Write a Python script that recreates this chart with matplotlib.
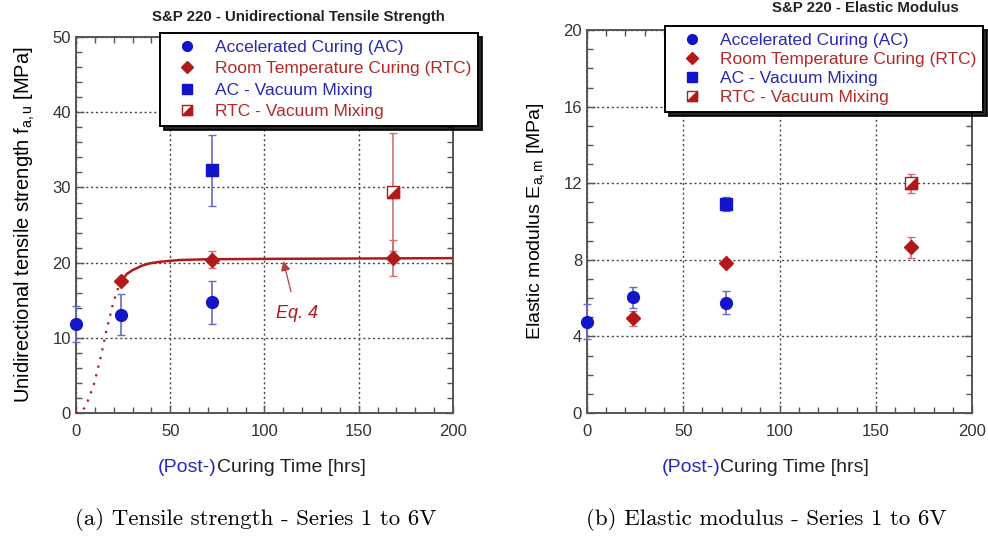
import matplotlib
matplotlib.use("Agg")
import matplotlib.pyplot as plt
from matplotlib.lines import Line2D
from matplotlib.legend_handler import HandlerTuple
from matplotlib.ticker import MultipleLocator
from matplotlib.path import Path

plt.rcParams["font.family"] = ["Liberation Sans", "DejaVu Sans"]
plt.rcParams["mathtext.fontset"] = "custom"
plt.rcParams["mathtext.rm"] = "Liberation Sans"
plt.rcParams["mathtext.it"] = "Liberation Sans:italic"

# ---------------- data ----------------
# Tensile strength (left)
ac_t = [0, 24, 72]
ac_f = [11.8, 13.1, 14.7]
ac_f_err = [2.4, 2.7, 2.8]
rtc_t = [24, 72, 168]
rtc_f = [17.6, 20.4, 20.6]
rtc_f_err = [0.3, 1.1, 2.4]
acvm_t = [72]
acvm_f = [32.3]
acvm_f_err = [4.7]
rtcvm_t = [168]
rtcvm_f = [29.4]
rtcvm_f_err = [7.8]
# Eq. 4 curve
eq_t_dot = [0, 2, 5, 9.4, 13, 16.2, 19.7, 23.3, 24]
eq_f_dot = [0, 0, 0.8, 3.7, 7.3, 11.0, 14.6, 17.3, 17.6]
eq_t_sol = [24, 27, 30, 35, 39, 44, 48, 55, 70, 100, 200]
eq_f_sol = [17.6, 18.5, 19.0, 19.6, 19.9, 20.1, 20.2, 20.35, 20.45, 20.5, 20.6]

# Elastic modulus (right)
ac_e = [4.77, 6.04, 5.76]
ac_e_err = [0.9, 0.55, 0.6]
rtc_e = [4.94, 7.85, 8.65]
rtc_e_err = [0.4, 0.1, 0.55]
acvm_e = [10.91]
acvm_e_err = [0.35]
rtcvm_e = [11.99]
rtcvm_e_err = [0.5]

labels = ["Accelerated Curing (AC)", "Room Temperature Curing (RTC)",
          "AC - Vacuum Mixing", "RTC - Vacuum Mixing"]

BLUE = "#1414c8"
RED = "#b01a1a"
BLUE_T = "#2828b4"
RED_T = "#b42828"
EB_BLUE = "#6a6ac8"
EB_RED = "#d07070"

tri = Path([(-1, -1), (1, -1), (1, 1), (-1, -1)],
           [Path.MOVETO, Path.LINETO, Path.LINETO, Path.CLOSEPOLY])

fig = plt.figure(figsize=(9.88, 5.37), dpi=100)
axL = fig.add_axes([0.0769, 0.2309, 0.3816, 0.700])
axR = fig.add_axes([0.594, 0.2309, 0.390, 0.713])


def style(ax, ymax, ymaj, ymin):
    ax.set_xlim(0, 200)
    ax.set_ylim(0, ymax)
    ax.xaxis.set_major_locator(MultipleLocator(50))
    ax.xaxis.set_minor_locator(MultipleLocator(10))
    ax.yaxis.set_major_locator(MultipleLocator(ymaj))
    ax.yaxis.set_minor_locator(MultipleLocator(ymin))
    ax.tick_params(which="both", direction="in", top=True, right=True,
                   colors="#555555", labelcolor="#333333", labelsize=12)
    ax.tick_params(which="major", length=6, width=1)
    ax.tick_params(which="minor", length=4, width=1)
    ax.tick_params(axis="x", pad=8)
    ax.grid(True, which="major", linestyle=(0, (1.5, 2.0)), color="#444444",
            linewidth=1.0)
    for s in ax.spines.values():
        s.set_color("#555555")
        s.set_linewidth(1.4)
    ax.set_axisbelow(True)


def draw(ax, y_ac, e_ac, y_rtc, e_rtc, y_acvm, e_acvm, y_rtcvm, e_rtcvm):
    ax.errorbar(ac_t, y_ac, yerr=e_ac, fmt="o", color=BLUE, ms=8.5,
                ecolor=EB_BLUE, elinewidth=1.2, capsize=3, zorder=5,
                clip_on=False)
    ax.errorbar(rtc_t, y_rtc, yerr=e_rtc, fmt="D", color=RED, ms=7.5,
                ecolor=EB_RED, elinewidth=1.2, capsize=3, zorder=5)
    ax.errorbar(acvm_t, y_acvm, yerr=e_acvm, fmt="s", color=BLUE, ms=8,
                ecolor=EB_BLUE, elinewidth=1.2, capsize=3, zorder=5)
    ax.errorbar(rtcvm_t, y_rtcvm, yerr=e_rtcvm, fmt="s", mfc="white",
                mec=RED, color=RED, ms=8, ecolor=EB_RED, elinewidth=1.2,
                capsize=3, zorder=5)
    ax.plot(rtcvm_t, y_rtcvm, linestyle="none", marker=tri, color=RED,
            ms=8, zorder=6)


def legend(ax, anchor, spacing):
    h1 = Line2D([], [], marker="o", ls="none", color=BLUE, ms=7)
    h2 = Line2D([], [], marker="D", ls="none", color=RED, ms=6.5)
    h3 = Line2D([], [], marker="s", ls="none", color=BLUE, ms=7)
    h4a = Line2D([], [], marker="s", ls="none", mfc="white", mec=RED, ms=7)
    h4b = Line2D([], [], marker=tri, ls="none", color=RED, ms=7)
    leg = ax.legend([h1, h2, h3, (h4a, h4b)], labels, loc="upper left",
                    bbox_to_anchor=anchor, bbox_transform=fig.transFigure,
                    borderaxespad=0,
                    fontsize=12.5, frameon=True, fancybox=False,
                    shadow={"color": "black", "alpha": 0.85, "ox": 3, "oy": -3},
                    edgecolor="black", framealpha=1, labelspacing=spacing,
                    handletextpad=0.45, handlelength=2.3, borderpad=0.4,
                    handler_map={tuple: HandlerTuple(ndivide=1)})
    leg.get_frame().set_linewidth(1.4)
    for t, c in zip(leg.get_texts(), [BLUE_T, RED_T, BLUE_T, RED_T]):
        t.set_color(c)
    leg.set_zorder(20)
    return leg


# ---- left panel ----
style(axL, 50, 10, 2)
axL.plot(eq_t_dot, eq_f_dot, linestyle=(0, (1, 3)), color=RED, lw=1.6,
         zorder=4)
axL.plot(eq_t_sol, eq_f_sol, color=RED, lw=1.8, zorder=4)
draw(axL, ac_f, ac_f_err, rtc_f, rtc_f_err, acvm_f, acvm_f_err,
     rtcvm_f, rtcvm_f_err)
axL.annotate("Eq. 4", xy=(110, 20.2), xytext=(117, 13.2), color=RED,
             fontsize=13, style="italic", ha="center", va="center",
             arrowprops=dict(arrowstyle="-|>", color="#b04040", lw=0.9,
                             mutation_scale=14, shrinkA=8, shrinkB=0))
axL.set_ylabel("Unidirectional tensile strength f$_{\\mathregular{a,u}}$ [MPa]",
               fontsize=14.5, labelpad=11)
legend(axL, (0.162, 0.9385), 0.35)
fig.text(0.302, 0.968, "S&P 220 - Unidirectional Tensile Strength",
         fontsize=10.8, fontweight="bold", ha="center", va="center",
         color="#222222")

# ---- right panel ----
style(axR, 20, 4, 1)
draw(axR, ac_e, ac_e_err, rtc_e, rtc_e_err, acvm_e, acvm_e_err,
     rtcvm_e, rtcvm_e_err)
axR.set_ylabel("Elastic modulus E$_{\\mathregular{a,m}}$ [MPa]",
               fontsize=14, labelpad=12)
legend(axR, (0.673, 0.951), 0.22)
fig.text(0.876, 0.985, "S&P 220 - Elastic Modulus",
         fontsize=10.8, fontweight="bold", ha="center", va="center",
         color="#222222")

# x labels (two-colour)
for xb in (0.2196, 0.729):
    fig.text(xb, 0.130, "(Post-)", color="#2828c0", fontsize=14,
             ha="right", va="center")
    fig.text(xb, 0.130, "Curing Time [hrs]", color="#222222", fontsize=14,
             ha="left", va="center")

# captions
fig.text(0.259, 0.033, "(a) Tensile strength - Series 1 to 6V",
         fontsize=16.5, family="cmr10", ha="center", va="center")
fig.text(0.776, 0.033, "(b) Elastic modulus - Series 1 to 6V",
         fontsize=16.5, family="cmr10", ha="center", va="center")

fig.savefig("out.png", dpi=100)
